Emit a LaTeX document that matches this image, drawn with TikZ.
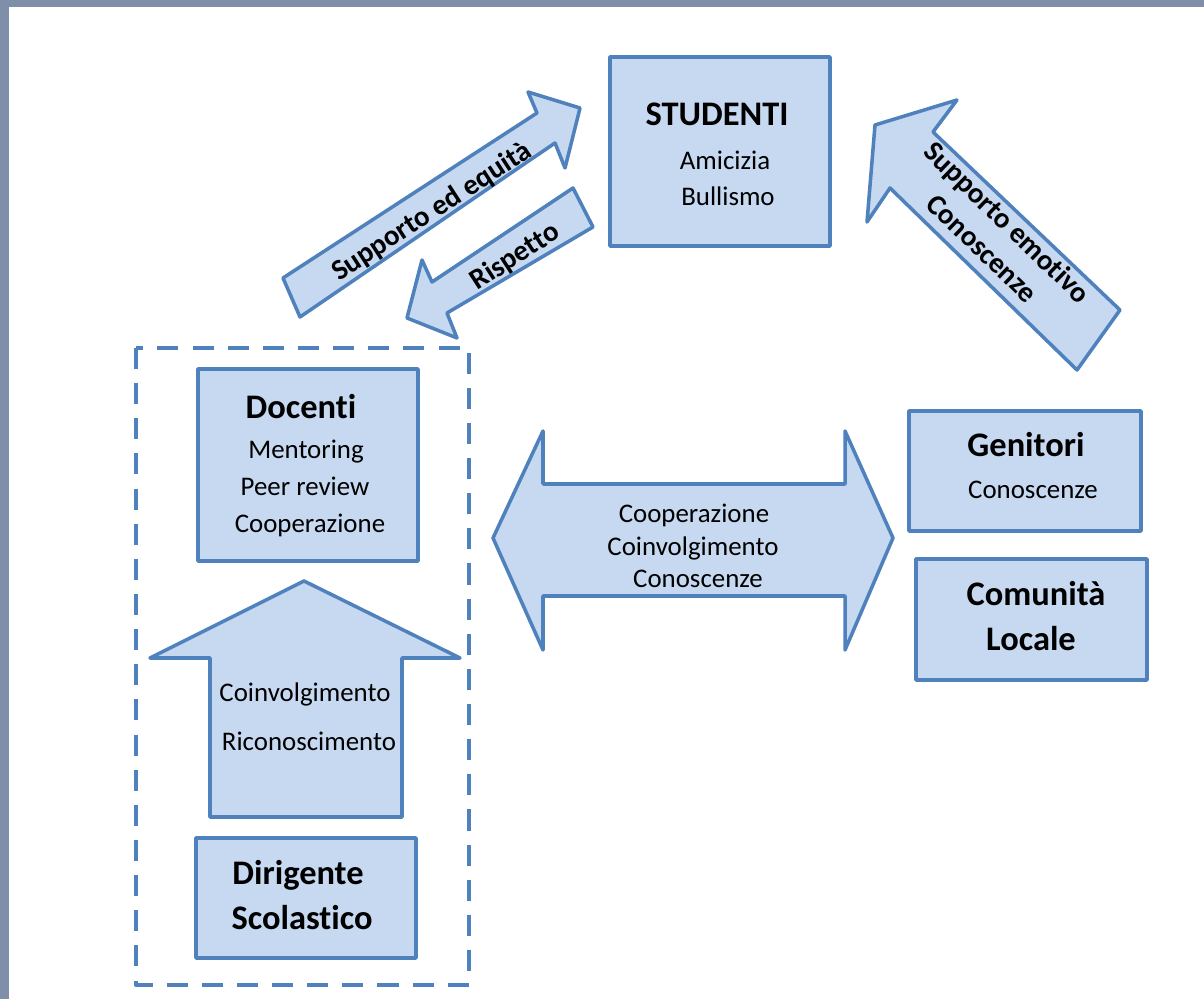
\documentclass[tikz,border=0pt]{standalone}
\usepackage{fontspec}
\setmainfont{Carlito}[Ligatures=CommonOff]
\definecolor{fillb}{HTML}{C6D9F1}
\definecolor{lineb}{HTML}{4F81BD}
\definecolor{frameg}{HTML}{7F8FA9}
\begin{document}
\begin{tikzpicture}[x=0.02cm,y=-0.02cm,
 blk/.style={draw=lineb, fill=fillb, line width=2pt, line join=round},
 box/.style={blk, rectangle, inner sep=0},
 lbl/.style={inner sep=0, text height=0.64em, text depth=0pt, font=\fontsize{15.3}{18}\selectfont},
 ttl/.style={lbl, font=\fontsize{19.6}{23}\selectfont\bfseries},
 rot/.style={inner sep=0, align=center, font=\fontsize{16.5}{20.5}\selectfont\bfseries},
]
\useasboundingbox (0,0) rectangle (1204,999);
\fill[white] (0,0) rectangle (1204,999);
\fill[frameg] (0,0) rectangle (1204,7);
\fill[frameg] (0,0) rectangle (9,999);

% dashed group
\draw[draw=lineb, line width=2.3pt, dash pattern=on 12pt off 8pt, line join=round] (136,348) rectangle (469,985);

% boxes
\node[box, minimum width=4.4cm, minimum height=3.78cm] (stud) at (720,151.5) {};
\node[box, minimum width=4.4cm, minimum height=3.84cm] (doc) at (308,465) {};
\node[box, minimum width=4.4cm, minimum height=2.4cm] (dir) at (306,898) {};
\node[box, minimum width=4.64cm, minimum height=2.4cm] (gen) at (1025,471) {};
\node[box, minimum width=4.62cm, minimum height=2.42cm] (com) at (1031.5,619.5) {};

% texts in boxes
\node[ttl] (studT) at (717,120) {STUDENTI};
\node[lbl] (studA) at (725,164) {Amicizia};
\node[lbl] (studB) at (728,200) {Bullismo};
\node[ttl] (docT) at (301,413) {Docenti};
\node[lbl] (docA) at (306,453) {Mentoring};
\node[lbl] (docB) at (305,490) {Peer review};
\node[lbl] (docC) at (310,527) {Cooperazione};
\node[ttl] (dirA) at (298,879) {Dirigente};
\node[ttl] (dirB) at (302,924) {Scolastico};
\node[ttl] (genT) at (1026,451) {Genitori};
\node[lbl] (genA) at (1033,493) {Conoscenze};
\node[ttl] (comA) at (1036,600) {Comunità};
\node[ttl] (comB) at (1031,645) {Locale};

% up arrow
\draw[blk] (304,581) -- (460,658) -- (402,658) -- (402,817) -- (210,817) -- (210,658) -- (150,658) -- cycle;
\node[lbl] (upA) at (305,696) {Coinvolgimento};
\node[lbl] (upB) at (309,745) {Riconoscimento};

% double arrow
\draw[blk] (493,538) -- (543,431) -- (543,484) -- (845,484) -- (845,431) -- (893,538) -- (845,650) -- (845,596) -- (543,596) -- (543,650) -- cycle;
\node[lbl] (dA) at (694,517) {Cooperazione};
\node[lbl] (dB) at (693,550) {Coinvolgimento};
\node[lbl] (dC) at (698,582) {Conoscenze};

% Supporto ed equita arrow
\draw[blk] (283,278) -- (537,113) -- (528,92) -- (580,108) -- (565,168) -- (555,143) -- (300,317) -- cycle;
\node[rot, rotate=33] (seq) at (432,212) {Supporto ed equità};

% Rispetto arrow
\draw[blk] (573,188) -- (593,227) -- (447,313) -- (457,338) -- (407,318) -- (422,260) -- (432,282) -- cycle;
\node[rot, rotate=33] (risp) at (515,257) {Rispetto};

% Supporto emotivo arrow
\draw[blk] (1120,310) -- (1077,370) -- (890,188) -- (867,222) -- (875,125) -- (957,100) -- (933,132) -- cycle;
\node[rot, rotate=-44] (emo) at (995,235) {Supporto emotivo\\Conoscenze};
\end{tikzpicture}
\end{document}
